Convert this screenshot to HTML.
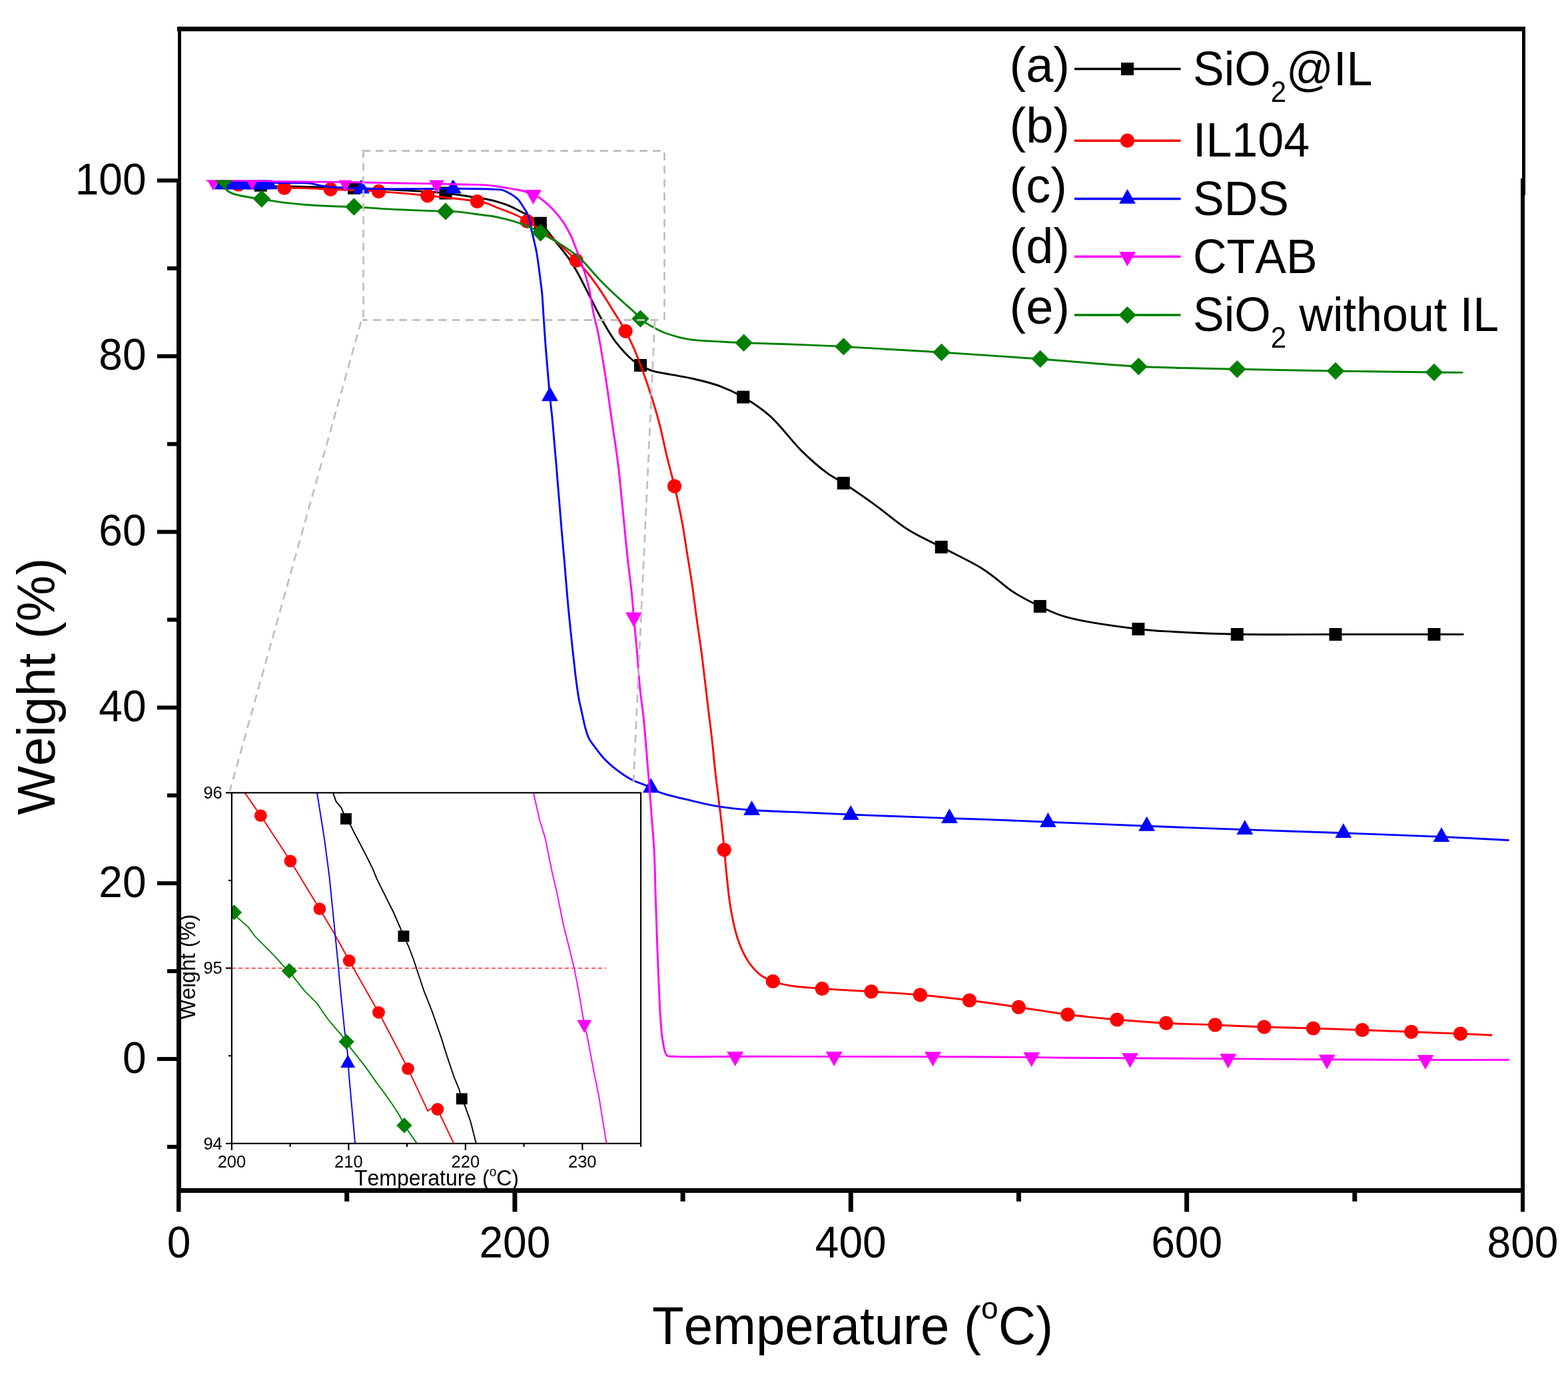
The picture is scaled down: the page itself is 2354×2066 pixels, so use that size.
<!DOCTYPE html><html><head><meta charset="utf-8"><title>TGA curves</title>
<style>html,body{margin:0;padding:0;background:#fff;}svg{display:block;}text{font-family:"Liberation Sans", Arial, sans-serif;fill:#000;font-kerning:none;font-feature-settings:"kern" 0;}</style></head><body>
<svg xmlns="http://www.w3.org/2000/svg" width="2354" height="2066" viewBox="0 0 2354 2066">
<rect width="2354" height="2066" fill="#fff"/>
<defs><clipPath id="mainclip"><rect x="272" y="270.6" width="2012" height="1513"/></clipPath><clipPath id="insclip"><rect x="347.9" y="1190.3" width="614.1" height="526.6"/></clipPath></defs>
<g clip-path="url(#mainclip)" fill="none" stroke-linejoin="round" stroke-linecap="round">
<path d="M318.0,273.5 C342.4,275.5 369.3,278.5 391.3,279.5 C409.2,280.3 423.7,279.8 440.0,280.0 C456.6,280.3 474.1,280.6 490.0,281.0 C504.5,281.4 516.0,281.7 531.6,282.3 C551.6,283.1 577.2,284.2 600.0,285.5 C623.0,286.8 649.9,288.0 669.0,290.0 C682.7,291.4 693.2,293.4 704.0,295.0 C713.4,296.4 722.5,297.4 730.4,299.0 C736.9,300.3 742.2,301.6 748.1,303.4 C754.0,305.2 759.9,307.1 765.7,309.6 C771.6,312.1 778.0,315.7 783.3,318.4 C787.6,320.6 790.8,322.1 795.0,324.5 C800.1,327.5 805.7,330.1 811.4,335.2 C819.6,342.5 829.5,357.0 837.1,366.6 C843.4,374.5 849.1,381.3 854.2,388.6 C858.8,395.2 862.2,400.9 866.4,408.2 C871.5,417.2 877.0,428.5 882.3,438.8 C887.6,449.1 893.9,461.9 898.2,470.0 C900.9,475.2 902.1,477.6 905.1,482.7 C909.8,490.7 916.7,503.5 924.1,513.1 C931.8,523.1 943.4,535.5 950.6,541.5 C954.8,545.0 957.4,546.2 961.5,548.5 C966.6,551.3 972.3,554.5 979.0,556.7 C987.2,559.4 997.7,560.5 1007.5,562.4 C1018.0,564.4 1028.5,565.8 1040.0,568.5 C1053.2,571.6 1069.2,575.4 1082.3,580.3 C1094.3,584.8 1104.4,589.6 1115.8,596.2 C1128.8,603.8 1142.4,612.5 1155.7,624.3 C1172.0,638.7 1189.0,662.9 1204.6,678.1 C1217.3,690.5 1229.9,701.5 1241.3,709.9 C1250.2,716.4 1256.7,719.1 1266.3,725.4 C1279.9,734.3 1298.6,747.3 1314.7,758.9 C1331.1,770.7 1346.8,785.0 1363.6,795.6 C1379.7,805.7 1396.0,812.4 1413.2,821.4 C1432.0,831.2 1457.9,843.5 1472.2,852.2 C1480.9,857.5 1485.1,861.0 1492.3,866.3 C1501.0,872.7 1509.8,881.4 1520.4,888.3 C1532.5,896.2 1547.6,903.9 1561.3,910.4 C1574.4,916.6 1583.9,921.7 1600.6,926.4 C1627.4,934.0 1679.3,940.9 1708.9,944.5 C1729.3,947.0 1741.0,947.3 1761.0,948.5 C1788.2,950.1 1821.8,951.6 1857.3,952.3 C1901.3,953.2 1955.7,952.5 2005.0,952.5 C2054.3,952.5 2118.4,952.5 2153.0,952.5 C2171.7,952.5 2181.9,952.5 2196.3,952.5" stroke="#000000" stroke-width="2.9" fill="none"/>
<rect x="381.8" y="268.7" width="19.0" height="19.0" fill="#000000"/>
<rect x="522.1" y="272.8" width="19.0" height="19.0" fill="#000000"/>
<rect x="659.5" y="280.5" width="19.0" height="19.0" fill="#000000"/>
<rect x="801.9" y="325.7" width="19.0" height="19.0" fill="#000000"/>
<rect x="952.0" y="539.0" width="19.0" height="19.0" fill="#000000"/>
<rect x="1106.3" y="586.7" width="19.0" height="19.0" fill="#000000"/>
<rect x="1256.8" y="715.9" width="19.0" height="19.0" fill="#000000"/>
<rect x="1403.7" y="811.9" width="19.0" height="19.0" fill="#000000"/>
<rect x="1551.8" y="900.9" width="19.0" height="19.0" fill="#000000"/>
<rect x="1699.4" y="935.0" width="19.0" height="19.0" fill="#000000"/>
<rect x="1847.8" y="943.0" width="19.0" height="19.0" fill="#000000"/>
<rect x="1995.5" y="943.0" width="19.0" height="19.0" fill="#000000"/>
<rect x="2143.5" y="943.0" width="19.0" height="19.0" fill="#000000"/>
<path d="M318.0,273.0 C331.3,274.3 342.8,275.7 357.9,277.0 C377.8,278.7 408.1,281.1 426.9,282.0 C439.9,282.6 448.7,282.2 460.0,282.6 C471.8,283.0 482.1,283.6 496.3,284.2 C516.3,285.1 544.4,285.8 568.6,287.4 C593.0,289.0 617.4,291.3 641.9,293.8 C666.7,296.3 701.5,300.2 716.5,302.5 C723.0,303.5 725.6,303.7 730.4,305.1 C736.0,306.8 742.1,310.1 748.1,312.5 C754.2,314.9 761.0,317.1 766.8,319.5 C772.0,321.7 777.1,323.9 781.5,326.2 C785.2,328.1 787.2,329.5 791.4,332.2 C799.1,337.0 812.5,344.6 823.6,353.2 C837.0,363.6 854.6,380.4 865.2,391.1 C872.4,398.3 876.7,403.1 882.3,410.0 C888.5,417.6 894.9,426.7 900.7,435.1 C906.3,443.3 910.8,450.8 916.5,460.0 C923.4,471.2 933.1,486.2 939.2,497.3 C943.9,505.9 946.5,511.4 950.6,520.7 C956.4,534.0 963.5,552.6 969.6,570.0 C976.2,589.1 983.1,610.6 988.5,630.6 C993.7,649.8 997.5,669.9 1001.8,687.5 C1005.5,702.7 1009.8,718.3 1012.6,730.1 C1014.6,738.4 1015.7,743.3 1017.4,751.3 C1019.6,761.6 1022.3,774.4 1024.6,787.0 C1027.1,801.0 1029.3,816.7 1031.7,831.6 C1034.1,846.4 1036.5,860.6 1038.8,876.1 C1041.3,893.1 1043.6,912.0 1046.0,929.6 C1048.4,946.7 1051.0,963.7 1053.2,980.0 C1055.2,995.3 1056.8,1009.7 1058.6,1024.6 C1060.4,1039.5 1062.1,1054.4 1063.9,1069.3 C1065.7,1084.2 1067.7,1099.0 1069.3,1113.9 C1071.0,1128.8 1072.2,1144.5 1073.8,1158.6 C1075.2,1171.2 1076.7,1181.7 1078.2,1194.3 C1079.9,1208.3 1082.0,1224.7 1083.6,1238.9 C1085.0,1251.8 1086.2,1263.7 1087.4,1275.8 C1088.5,1287.4 1089.2,1297.2 1090.5,1310.0 C1092.2,1326.3 1094.1,1348.2 1097.2,1365.5 C1100.0,1381.1 1103.0,1396.2 1107.5,1409.5 C1111.5,1421.3 1116.3,1432.6 1122.2,1441.8 C1127.3,1449.8 1133.2,1456.9 1139.8,1462.3 C1146.0,1467.3 1152.9,1470.6 1160.4,1473.5 C1168.5,1476.6 1176.6,1478.3 1186.8,1480.0 C1200.3,1482.3 1216.7,1483.1 1234.3,1484.4 C1256.2,1486.1 1283.5,1487.2 1308.0,1488.8 C1332.5,1490.4 1356.9,1491.6 1381.4,1493.8 C1406.0,1496.0 1430.8,1498.9 1455.4,1502.0 C1480.1,1505.1 1504.7,1508.6 1529.3,1512.2 C1553.9,1515.7 1578.4,1520.2 1603.0,1523.3 C1627.6,1526.4 1652.3,1528.8 1677.0,1531.0 C1701.6,1533.1 1726.1,1534.9 1750.7,1536.2 C1775.2,1537.5 1799.8,1537.9 1824.3,1538.9 C1848.8,1539.9 1873.4,1541.2 1897.9,1542.0 C1922.5,1542.9 1947.0,1543.2 1971.6,1544.0 C1996.1,1544.7 2020.7,1545.6 2045.2,1546.5 C2069.7,1547.4 2094.2,1548.4 2118.8,1549.3 C2143.4,1550.2 2170.8,1551.2 2192.6,1552.1 C2209.9,1552.8 2223.5,1553.6 2239.0,1554.3" stroke="#ff0000" stroke-width="2.9" fill="none"/>
<circle cx="357.9" cy="277.0" r="10.6" fill="#ff0000"/>
<circle cx="426.9" cy="282.2" r="10.6" fill="#ff0000"/>
<circle cx="496.3" cy="284.3" r="10.6" fill="#ff0000"/>
<circle cx="568.6" cy="287.4" r="10.6" fill="#ff0000"/>
<circle cx="641.9" cy="293.8" r="10.6" fill="#ff0000"/>
<circle cx="716.5" cy="302.5" r="10.6" fill="#ff0000"/>
<circle cx="791.4" cy="332.2" r="10.6" fill="#ff0000"/>
<circle cx="865.2" cy="391.1" r="10.6" fill="#ff0000"/>
<circle cx="939.2" cy="497.3" r="10.6" fill="#ff0000"/>
<circle cx="1012.6" cy="730.1" r="10.6" fill="#ff0000"/>
<circle cx="1087.2" cy="1276.0" r="10.6" fill="#ff0000"/>
<circle cx="1160.4" cy="1473.5" r="10.6" fill="#ff0000"/>
<circle cx="1234.3" cy="1484.4" r="10.6" fill="#ff0000"/>
<circle cx="1308.0" cy="1488.8" r="10.6" fill="#ff0000"/>
<circle cx="1381.4" cy="1493.8" r="10.6" fill="#ff0000"/>
<circle cx="1455.4" cy="1502.0" r="10.6" fill="#ff0000"/>
<circle cx="1529.3" cy="1512.2" r="10.6" fill="#ff0000"/>
<circle cx="1603.0" cy="1523.3" r="10.6" fill="#ff0000"/>
<circle cx="1677.0" cy="1531.0" r="10.6" fill="#ff0000"/>
<circle cx="1750.7" cy="1536.2" r="10.6" fill="#ff0000"/>
<circle cx="1824.3" cy="1538.9" r="10.6" fill="#ff0000"/>
<circle cx="1897.9" cy="1542.0" r="10.6" fill="#ff0000"/>
<circle cx="1971.6" cy="1544.0" r="10.6" fill="#ff0000"/>
<circle cx="2045.2" cy="1546.5" r="10.6" fill="#ff0000"/>
<circle cx="2118.8" cy="1549.3" r="10.6" fill="#ff0000"/>
<circle cx="2192.6" cy="1552.1" r="10.6" fill="#ff0000"/>
<path d="M318.0,272.0 C352.0,272.8 392.7,274.0 420.0,274.5 C438.3,274.9 454.6,273.9 465.8,275.2 C472.5,276.0 475.6,277.7 481.6,278.7 C489.2,280.0 498.6,281.1 508.0,281.8 C518.7,282.6 529.5,282.9 542.4,283.2 C559.1,283.6 578.6,283.6 600.0,283.6 C626.8,283.6 666.7,283.2 690.8,283.3 C706.7,283.4 721.7,283.5 730.4,283.8 C734.7,283.9 736.5,284.1 740.0,284.3 C744.1,284.5 749.4,284.3 753.4,285.2 C756.7,285.9 759.4,287.3 762.3,288.7 C765.3,290.2 768.5,292.2 771.2,294.1 C773.6,295.8 776.0,297.4 777.9,299.4 C779.7,301.3 780.9,303.5 782.4,305.7 C783.9,308.0 785.3,310.4 786.8,312.8 C788.3,315.2 789.9,317.2 791.3,320.0 C793.0,323.5 794.7,328.3 795.7,332.4 C796.7,336.2 796.8,340.1 797.5,343.6 C798.1,346.6 798.7,348.4 799.5,352.0 C800.9,358.2 803.6,368.5 805.3,377.6 C807.2,387.9 808.7,399.9 810.1,410.7 C811.5,421.1 812.9,431.2 813.8,441.2 C814.7,450.9 815.0,459.2 815.7,470.0 C816.6,483.7 817.7,500.5 818.9,516.9 C820.3,534.9 822.4,559.3 823.6,573.7 C824.4,582.5 824.7,587.0 825.5,595.0 C826.5,605.4 828.0,616.9 829.3,630.6 C831.1,649.3 832.9,672.4 835.0,697.0 C837.6,727.6 841.2,773.6 843.5,800.0 C844.9,816.5 845.8,825.4 847.1,840.2 C848.7,858.2 850.3,880.3 852.1,900.4 C853.9,920.5 856.1,941.5 858.1,960.6 C859.9,977.9 862.0,997.2 863.5,1010.0 C864.5,1018.2 865.2,1023.4 866.1,1030.0 C867.0,1036.4 867.8,1042.5 869.0,1049.0 C870.3,1056.0 872.1,1063.5 873.7,1070.7 C875.3,1077.7 876.6,1085.0 878.4,1091.6 C880.1,1097.6 881.6,1103.6 884.1,1108.7 C886.4,1113.3 889.3,1116.6 892.6,1121.0 C896.7,1126.5 901.9,1133.6 906.9,1139.0 C911.5,1143.9 916.3,1148.2 921.1,1152.2 C925.7,1156.0 930.5,1159.5 935.3,1162.7 C940.0,1165.8 944.3,1168.6 949.5,1171.2 C955.3,1174.1 963.4,1176.7 968.5,1178.8 C972.0,1180.2 974.1,1181.0 977.3,1182.5 C981.3,1184.4 984.5,1187.3 990.3,1189.6 C1000.7,1193.7 1020.9,1198.0 1035.9,1201.6 C1050.4,1205.1 1064.1,1208.5 1079.0,1210.9 C1094.9,1213.5 1109.7,1214.9 1128.6,1216.3 C1153.6,1218.2 1189.5,1219.0 1216.1,1220.2 C1238.3,1221.2 1257.2,1222.2 1277.2,1223.0 C1296.3,1223.8 1312.4,1224.4 1333.5,1225.2 C1360.4,1226.2 1398.7,1227.7 1425.4,1228.6 C1446.0,1229.3 1459.6,1229.6 1480.3,1230.4 C1507.3,1231.4 1545.0,1233.0 1573.4,1234.2 C1597.5,1235.2 1616.7,1235.9 1640.0,1236.9 C1665.8,1238.0 1690.4,1239.1 1721.6,1240.3 C1763.5,1241.9 1819.7,1243.9 1868.8,1245.6 C1918.1,1247.4 1967.5,1249.0 2016.8,1250.8 C2065.9,1252.6 2119.6,1254.4 2164.0,1256.4 C2200.7,1258.0 2230.9,1259.8 2264.4,1261.5" stroke="#0000ff" stroke-width="2.9" fill="none"/>
<polygon points="334.0,262.3 346.4,284.3 321.6,284.3" fill="#0000ff"/>
<polygon points="344.0,262.3 356.4,284.3 331.6,284.3" fill="#0000ff"/>
<polygon points="354.0,262.3 366.4,284.3 341.6,284.3" fill="#0000ff"/>
<polygon points="364.0,262.3 376.4,284.3 351.6,284.3" fill="#0000ff"/>
<polygon points="374.0,262.3 386.4,284.3 361.6,284.3" fill="#0000ff"/>
<polygon points="384.0,262.3 396.4,284.3 371.6,284.3" fill="#0000ff"/>
<polygon points="394.0,262.3 406.4,284.3 381.6,284.3" fill="#0000ff"/>
<polygon points="404.0,262.3 416.4,284.3 391.6,284.3" fill="#0000ff"/>
<polygon points="542.4,268.5 554.8,290.5 530.0,290.5" fill="#0000ff"/>
<polygon points="680.3,268.5 692.7,290.5 667.9,290.5" fill="#0000ff"/>
<polygon points="825.5,580.3 837.9,602.3 813.1,602.3" fill="#0000ff"/>
<polygon points="977.3,1168.3 989.7,1190.3 964.9,1190.3" fill="#0000ff"/>
<polygon points="1128.6,1201.9 1141.0,1223.9 1116.2,1223.9" fill="#0000ff"/>
<polygon points="1277.2,1208.9 1289.6,1230.9 1264.8,1230.9" fill="#0000ff"/>
<polygon points="1425.4,1214.1 1437.8,1236.1 1413.0,1236.1" fill="#0000ff"/>
<polygon points="1573.4,1220.1 1585.8,1242.1 1561.0,1242.1" fill="#0000ff"/>
<polygon points="1721.6,1225.7 1734.0,1247.7 1709.2,1247.7" fill="#0000ff"/>
<polygon points="1868.8,1231.0 1881.2,1253.0 1856.4,1253.0" fill="#0000ff"/>
<polygon points="2016.8,1236.1 2029.2,1258.1 2004.4,1258.1" fill="#0000ff"/>
<polygon points="2164.0,1241.9 2176.4,1263.9 2151.6,1263.9" fill="#0000ff"/>
<path d="M311.0,271.0 C333.5,271.1 358.7,271.0 378.5,271.3 C394.0,271.6 403.2,272.2 420.0,272.5 C445.8,273.0 487.0,273.1 518.2,273.5 C546.7,273.9 575.4,274.6 600.0,275.0 C620.3,275.4 638.6,275.5 655.6,275.9 C669.9,276.2 683.3,276.7 695.2,277.0 C704.9,277.2 713.7,277.0 721.6,277.4 C728.1,277.7 733.4,278.2 739.3,278.9 C745.2,279.6 751.0,280.7 756.9,281.6 C762.8,282.5 769.1,283.4 774.5,284.5 C779.2,285.4 783.4,286.2 787.7,287.5 C792.0,288.8 796.7,290.6 800.5,292.2 C803.6,293.5 805.7,294.1 808.9,296.2 C814.3,299.7 822.4,306.7 828.5,312.8 C834.7,319.1 840.7,326.3 845.6,333.6 C850.4,340.6 854.3,348.1 857.8,355.6 C861.2,362.8 863.5,369.9 866.4,377.6 C869.6,386.1 873.2,395.2 876.2,404.5 C879.4,414.3 882.4,424.5 884.8,435.1 C887.3,446.3 888.6,459.0 890.9,470.0 C892.9,479.9 895.2,486.6 897.5,497.9 C901.0,515.3 905.4,542.2 908.9,564.3 C912.4,586.4 915.2,608.5 918.4,630.6 C921.6,652.7 925.0,673.6 927.9,697.0 C931.1,723.1 933.8,754.5 936.4,780.0 C938.6,801.7 940.3,821.1 942.4,840.2 C944.3,857.7 946.8,875.0 948.4,890.4 C949.7,903.5 950.3,913.5 951.5,926.8 C952.9,943.0 955.0,963.0 956.5,980.7 C958.0,997.7 958.8,1014.2 960.5,1030.9 C962.2,1047.6 964.7,1063.6 966.5,1081.0 C968.4,1099.8 970.0,1122.2 971.5,1140.0 C972.7,1154.6 973.7,1166.1 974.8,1180.0 C976.0,1195.2 977.2,1211.9 978.4,1227.9 C979.6,1243.9 981.1,1258.3 982.0,1275.9 C983.2,1297.4 983.5,1323.8 984.3,1347.8 C985.1,1371.8 985.9,1396.8 986.7,1419.7 C987.5,1440.6 988.3,1460.7 989.1,1479.6 C989.9,1496.5 990.4,1512.8 991.5,1527.6 C992.5,1540.4 993.1,1553.2 995.1,1563.5 C996.6,1571.5 997.3,1581.2 1001.1,1584.6 C1003.8,1587.0 1006.5,1585.8 1011.9,1586.2 C1027.5,1587.4 1069.4,1586.3 1103.7,1586.3 C1147.3,1586.3 1202.7,1586.3 1252.2,1586.4 C1301.6,1586.4 1351.1,1586.4 1400.5,1586.6 C1449.9,1586.8 1512.1,1587.0 1548.7,1587.4 C1570.2,1587.6 1580.2,1588.0 1600.0,1588.2 C1627.1,1588.5 1661.0,1588.6 1696.6,1588.8 C1740.5,1589.1 1794.6,1589.3 1843.8,1589.6 C1893.1,1589.9 1942.7,1590.5 1992.1,1590.8 C2041.4,1591.1 2092.8,1591.3 2140.0,1591.4 C2183.3,1591.5 2222.9,1591.3 2264.4,1591.3" stroke="#ff00ff" stroke-width="2.9" fill="none"/>
<polygon points="319.9,285.9 332.3,263.9 307.5,263.9" fill="#ff00ff"/>
<polygon points="378.5,286.0 390.9,264.0 366.1,264.0" fill="#ff00ff"/>
<polygon points="518.4,288.0 530.8,266.0 506.0,266.0" fill="#ff00ff"/>
<polygon points="655.6,290.6 668.0,268.6 643.2,268.6" fill="#ff00ff"/>
<polygon points="800.5,306.9 812.9,284.9 788.1,284.9" fill="#ff00ff"/>
<polygon points="951.5,941.5 963.9,919.5 939.1,919.5" fill="#ff00ff"/>
<polygon points="1103.7,1601.0 1116.1,1579.0 1091.3,1579.0" fill="#ff00ff"/>
<polygon points="1252.2,1601.1 1264.6,1579.1 1239.8,1579.1" fill="#ff00ff"/>
<polygon points="1400.5,1601.3 1412.9,1579.3 1388.1,1579.3" fill="#ff00ff"/>
<polygon points="1548.7,1602.0 1561.1,1580.0 1536.3,1580.0" fill="#ff00ff"/>
<polygon points="1696.6,1603.3 1709.0,1581.3 1684.2,1581.3" fill="#ff00ff"/>
<polygon points="1843.8,1604.3 1856.2,1582.3 1831.4,1582.3" fill="#ff00ff"/>
<polygon points="1992.1,1605.5 2004.5,1583.5 1979.7,1583.5" fill="#ff00ff"/>
<polygon points="2140.0,1606.1 2152.4,1584.1 2127.6,1584.1" fill="#ff00ff"/>
<path d="M322.0,268.0 C326.7,268.9 333.0,267.8 336.0,270.6 C339.1,273.4 337.3,281.5 340.0,285.0 C342.5,288.2 347.0,289.6 351.0,291.2 C355.3,292.9 360.3,293.5 365.0,294.5 C369.6,295.5 374.2,296.3 378.8,297.0 C383.4,297.7 388.2,298.1 392.8,298.8 C397.3,299.5 401.7,300.3 406.2,301.1 C410.8,301.9 415.0,302.7 420.0,303.4 C426.0,304.2 433.0,304.9 440.0,305.6 C447.6,306.4 454.8,307.1 464.0,307.8 C476.5,308.7 495.6,309.6 508.0,310.0 C517.0,310.3 522.6,310.1 531.4,310.5 C542.6,311.0 557.7,312.4 569.7,313.1 C580.4,313.8 587.8,314.2 600.0,314.8 C618.3,315.7 653.6,316.9 669.0,317.4 C676.7,317.7 680.0,317.4 686.4,317.9 C694.3,318.5 703.9,320.2 712.8,321.3 C721.8,322.5 731.0,323.2 740.0,324.8 C749.0,326.4 759.4,329.1 766.8,331.1 C772.0,332.5 776.1,333.7 780.1,335.1 C783.4,336.3 786.1,337.5 789.1,338.7 C792.1,339.9 794.8,340.7 798.0,342.2 C802.1,344.1 806.1,346.6 811.4,349.5 C819.1,353.8 830.1,359.4 839.5,365.4 C849.7,371.9 860.3,378.8 870.1,387.4 C880.8,396.8 890.4,409.9 900.7,420.4 C910.7,430.6 921.5,440.8 931.2,449.8 C939.7,457.8 950.5,466.7 955.7,472.0 C958.4,474.7 959.2,476.5 961.4,478.6 C963.8,480.9 966.4,482.6 969.8,484.9 C974.7,488.1 983.0,492.7 988.5,495.5 C992.7,497.6 995.1,498.8 1000.0,500.5 C1008.2,503.3 1021.1,507.3 1033.4,509.4 C1048.0,511.9 1067.4,512.1 1082.3,513.0 C1094.7,513.8 1103.4,514.2 1116.6,514.7 C1134.6,515.4 1157.4,515.9 1180.2,516.7 C1206.8,517.7 1240.3,519.1 1266.5,520.4 C1288.4,521.5 1305.0,522.7 1326.9,524.0 C1353.2,525.5 1389.1,527.5 1413.5,529.0 C1431.4,530.1 1441.5,530.9 1460.0,532.1 C1487.4,533.9 1524.7,536.3 1561.7,539.0 C1606.3,542.2 1660.0,547.7 1709.3,550.2 C1758.6,552.7 1808.0,553.1 1857.3,554.2 C1906.6,555.3 1955.7,556.2 2005.0,557.0 C2054.3,557.8 2118.7,558.6 2153.0,559.0 C2171.3,559.2 2181.1,559.3 2195.1,559.4" stroke="#008000" stroke-width="2.9" fill="none"/>
<polygon points="336.0,257.4 349.2,270.6 336.0,283.8 322.8,270.6" fill="#008000"/>
<polygon points="392.8,285.3 406.0,298.5 392.8,311.7 379.6,298.5" fill="#008000"/>
<polygon points="531.4,297.3 544.6,310.5 531.4,323.7 518.2,310.5" fill="#008000"/>
<polygon points="669.0,304.2 682.2,317.4 669.0,330.6 655.8,317.4" fill="#008000"/>
<polygon points="811.4,336.3 824.6,349.5 811.4,362.7 798.2,349.5" fill="#008000"/>
<polygon points="961.4,465.4 974.6,478.6 961.4,491.8 948.2,478.6" fill="#008000"/>
<polygon points="1116.6,501.5 1129.8,514.7 1116.6,527.9 1103.4,514.7" fill="#008000"/>
<polygon points="1266.5,507.2 1279.7,520.4 1266.5,533.6 1253.3,520.4" fill="#008000"/>
<polygon points="1413.5,515.8 1426.7,529.0 1413.5,542.2 1400.3,529.0" fill="#008000"/>
<polygon points="1561.7,525.8 1574.9,539.0 1561.7,552.2 1548.5,539.0" fill="#008000"/>
<polygon points="1709.3,537.0 1722.5,550.2 1709.3,563.4 1696.1,550.2" fill="#008000"/>
<polygon points="1857.3,541.0 1870.5,554.2 1857.3,567.4 1844.1,554.2" fill="#008000"/>
<polygon points="2005.0,543.8 2018.2,557.0 2005.0,570.2 1991.8,557.0" fill="#008000"/>
<polygon points="2153.0,545.8 2166.2,559.0 2153.0,572.2 2139.8,559.0" fill="#008000"/>
</g>
<path d="M544,226.5 H992" stroke="#c0c0c0" stroke-width="2.8" fill="none" stroke-dasharray="11.8 8.02"/>
<path d="M545.5,225 V481" stroke="#c0c0c0" stroke-width="2.8" fill="none" stroke-dasharray="11.8 8.2"/>
<path d="M997.5,229 V481" stroke="#c0c0c0" stroke-width="2.8" fill="none" stroke-dasharray="11.8 8.2"/>
<path d="M544,480.5 H988" stroke="#c0c0c0" stroke-width="2.8" fill="none" stroke-dasharray="11.8 8.02" stroke-dashoffset="4"/>
<path d="M542,483 L345,1187.5" stroke="#c0c0c0" stroke-width="2.8" fill="none" stroke-dasharray="12.1 7.95"/>
<path d="M983,482 L950.9,1176" stroke="#c0c0c0" stroke-width="2.8" fill="none" stroke-dasharray="12.1 7.95"/>
<g font-size="64">
<text transform="translate(219.50,1610.50) scale(1,1.040)" font-size="64" text-anchor="end">0</text>
<text transform="translate(219.50,1346.70) scale(1,1.040)" font-size="64" text-anchor="end">20</text>
<text transform="translate(219.50,1082.90) scale(1,1.040)" font-size="64" text-anchor="end">40</text>
<text transform="translate(219.50,819.10) scale(1,1.040)" font-size="64" text-anchor="end">60</text>
<text transform="translate(219.50,555.30) scale(1,1.040)" font-size="64" text-anchor="end">80</text>
<text transform="translate(219.50,291.50) scale(1,1.040)" font-size="64" text-anchor="end">100</text>
<text transform="translate(268.50,1888.00) scale(1,1.040)" font-size="64" text-anchor="middle">0</text>
<text transform="translate(772.88,1888.00) scale(1,1.040)" font-size="64" text-anchor="middle">200</text>
<text transform="translate(1277.25,1888.00) scale(1,1.040)" font-size="64" text-anchor="middle">400</text>
<text transform="translate(1781.62,1888.00) scale(1,1.040)" font-size="64" text-anchor="middle">600</text>
<text transform="translate(2286.00,1888.00) scale(1,1.040)" font-size="64" text-anchor="middle">800</text>
</g>
<text transform="translate(979.00,2017.50) scale(1,1.020)" font-size="78">Temperature (<tspan font-size="46" dy="-37">o</tspan><tspan dy="37">C)</tspan></text>
<text transform="translate(82.00,1223.50) rotate(-90) scale(1,1.020)" font-size="78">Weight (%)</text>
<text transform="translate(1515.50,123.00)" font-size="74">(a)</text>
<line x1="1613" y1="103.5" x2="1772.5" y2="103.5" stroke="#000000" stroke-width="3.5"/>
<rect x="1683.0" y="94.0" width="19.0" height="19.0" fill="#000000"/>
<text transform="translate(1791.00,127.80) scale(1,1.040)" font-size="70">SiO<tspan font-size="42" dy="24">2</tspan><tspan dy="-24">@IL</tspan></text>
<text transform="translate(1515.50,214.30)" font-size="74">(b)</text>
<line x1="1613" y1="211.2" x2="1772.5" y2="211.2" stroke="#ff0000" stroke-width="3.5"/>
<circle cx="1692.5" cy="211.2" r="10.6" fill="#ff0000"/>
<text transform="translate(1791.00,235.40) scale(1,1.040)" font-size="70">IL104</text>
<text transform="translate(1515.50,304.00)" font-size="74">(c)</text>
<line x1="1613" y1="298.5" x2="1772.5" y2="298.5" stroke="#0000ff" stroke-width="3.5"/>
<polygon points="1692.5,283.8 1704.9,305.8 1680.1,305.8" fill="#0000ff"/>
<text transform="translate(1791.00,323.00) scale(1,1.040)" font-size="70">SDS</text>
<text transform="translate(1515.50,394.60)" font-size="74">(d)</text>
<line x1="1613" y1="385.3" x2="1772.5" y2="385.3" stroke="#ff00ff" stroke-width="3.5"/>
<polygon points="1692.5,400.0 1704.9,378.0 1680.1,378.0" fill="#ff00ff"/>
<text transform="translate(1791.00,410.20) scale(1,1.040)" font-size="70">CTAB</text>
<text transform="translate(1515.50,486.00)" font-size="74">(e)</text>
<line x1="1613" y1="473.1" x2="1772.5" y2="473.1" stroke="#008000" stroke-width="3.5"/>
<polygon points="1692.5,459.9 1705.7,473.1 1692.5,486.3 1679.3,473.1" fill="#008000"/>
<text transform="translate(1791.00,497.30) scale(1,1.040)" font-size="70">SiO<tspan font-size="42" dy="24">2</tspan><tspan dy="-24"> without IL</tspan></text>
<rect x="347.9" y="1190.3" width="614.1" height="526.6" fill="#fff"/>
<line x1="347.9" y1="1453.6" x2="909.7" y2="1453.6" stroke="#ff0000" stroke-width="1.3" stroke-dasharray="6 4"/>
<g clip-path="url(#insclip)" fill="none" stroke-linejoin="round">
<path d="M499.9,1190.3 L504.5,1203.4 L512.2,1212.6 L519.5,1229.5 L526.0,1238.6 L532.1,1250.9 L547.4,1280.0 L559.7,1304.6 L565.8,1319.9 L572.0,1332.1 L579.6,1347.5 L590.4,1369.0 L601.1,1393.5 L606.0,1405.7 L613.4,1421.0 L620.6,1440.0 L636.1,1486.8 L648.5,1518.0 L662.6,1558.6 L670.4,1583.6 L681.3,1616.3 L689.1,1635.1 L693.3,1649.9 L698.5,1661.6 L706.3,1683.4 L714.9,1716.9" stroke="#000000" stroke-width="1.9" fill="none"/>
<rect x="511.0" y="1221.0" width="16.9" height="16.9" fill="#000000"/>
<rect x="597.5" y="1397.2" width="16.9" height="16.9" fill="#000000"/>
<rect x="684.8" y="1641.4" width="16.9" height="16.9" fill="#000000"/>
<path d="M367.4,1190.3 L391.3,1224.6 L413.6,1258.6 L436.0,1292.8 L479.9,1364.7 L501.9,1401.7 L524.2,1442.3 L562.7,1510.2 L568.5,1520.1 L590.0,1561.0 L612.5,1604.6 L642.3,1668.2 L647.0,1664.5 L656.8,1665.5 L681.3,1716.9" stroke="#ff0000" stroke-width="1.9" fill="none"/>
<circle cx="391.3" cy="1224.6" r="9.4" fill="#ff0000"/>
<circle cx="436.0" cy="1292.8" r="9.4" fill="#ff0000"/>
<circle cx="479.9" cy="1364.7" r="9.4" fill="#ff0000"/>
<circle cx="524.2" cy="1442.3" r="9.4" fill="#ff0000"/>
<circle cx="568.5" cy="1520.1" r="9.4" fill="#ff0000"/>
<circle cx="612.5" cy="1604.6" r="9.4" fill="#ff0000"/>
<circle cx="656.8" cy="1665.5" r="9.4" fill="#ff0000"/>
<path d="M476.0,1190.3 L487.0,1259.7 L494.4,1315.7 L501.9,1390.5 L507.5,1446.5 L511.2,1486.8 L517.5,1549.2 L522.1,1583.6 L523.7,1611.7 L533.1,1716.9" stroke="#0000ff" stroke-width="1.9" fill="none"/>
<polygon points="522.2,1583.5 533.2,1603.1 511.2,1603.1" fill="#0000ff"/>
<path d="M800.9,1190.3 L809.8,1229.7 L818.8,1259.6 L827.7,1304.3 L836.7,1343.1 L845.6,1387.8 L854.6,1423.6 L862.0,1453.4 L869.5,1492.2 L875.4,1528.0 L877.0,1538.0 L881.4,1554.8 L890.3,1602.5 L899.3,1647.3 L910.5,1716.9" stroke="#ff00ff" stroke-width="1.9" fill="none"/>
<polygon points="877.2,1551.1 888.2,1531.5 866.2,1531.5" fill="#ff00ff"/>
<path d="M347.9,1367.0 L351.5,1369.9 L356.2,1377.4 L373.0,1392.3 L382.4,1405.4 L397.3,1420.3 L412.2,1435.3 L425.3,1450.2 L434.3,1457.7 L442.1,1468.9 L457.1,1487.6 L475.7,1506.3 L485.1,1520.0 L492.5,1530.5 L500.3,1539.9 L511.2,1552.4 L520.1,1564.1 L526.8,1574.2 L539.3,1589.8 L550.2,1603.9 L564.3,1624.1 L578.3,1642.9 L589.2,1658.5 L600.2,1675.6 L606.9,1689.7 L615.8,1702.2 L625.9,1716.9" stroke="#008000" stroke-width="1.9" fill="none"/>
<polygon points="351.5,1358.2 363.2,1369.9 351.5,1381.6 339.8,1369.9" fill="#008000"/>
<polygon points="434.3,1446.0 446.0,1457.7 434.3,1469.4 422.6,1457.7" fill="#008000"/>
<polygon points="520.1,1552.4 531.8,1564.1 520.1,1575.8 508.4,1564.1" fill="#008000"/>
<polygon points="606.9,1678.0 618.6,1689.7 606.9,1701.4 595.2,1689.7" fill="#008000"/>
</g>
<g stroke="#000" fill="none" stroke-width="2.2">
<rect x="347.9" y="1190.3" width="614.1" height="526.6"/>
<line x1="338.9" y1="1716.9" x2="347.9" y2="1716.9"/>
<line x1="338.9" y1="1453.6" x2="347.9" y2="1453.6"/>
<line x1="338.9" y1="1190.3" x2="347.9" y2="1190.3"/>
<line x1="342.9" y1="1585.2" x2="347.9" y2="1585.2"/>
<line x1="342.9" y1="1322.0" x2="347.9" y2="1322.0"/>
<line x1="347.9" y1="1716.9" x2="347.9" y2="1726.9"/>
<line x1="523.4" y1="1716.9" x2="523.4" y2="1726.9"/>
<line x1="698.8" y1="1716.9" x2="698.8" y2="1726.9"/>
<line x1="874.3" y1="1716.9" x2="874.3" y2="1726.9"/>
<line x1="435.6" y1="1716.9" x2="435.6" y2="1721.9"/>
<line x1="611.1" y1="1716.9" x2="611.1" y2="1721.9"/>
<line x1="786.5" y1="1716.9" x2="786.5" y2="1721.9"/>
<line x1="962.0" y1="1716.9" x2="962.0" y2="1721.9"/>
</g>
<g font-size="25.5">
<text transform="translate(333.80,1725.70) scale(1,1.040)" font-size="25.5" text-anchor="end">94</text>
<text transform="translate(333.80,1462.40) scale(1,1.040)" font-size="25.5" text-anchor="end">95</text>
<text transform="translate(333.80,1199.10) scale(1,1.040)" font-size="25.5" text-anchor="end">96</text>
<text transform="translate(347.90,1752.80) scale(1,1.040)" font-size="25.5" text-anchor="middle">200</text>
<text transform="translate(523.36,1752.80) scale(1,1.040)" font-size="25.5" text-anchor="middle">210</text>
<text transform="translate(698.81,1752.80) scale(1,1.040)" font-size="25.5" text-anchor="middle">220</text>
<text transform="translate(874.27,1752.80) scale(1,1.040)" font-size="25.5" text-anchor="middle">230</text>
</g>
<text transform="translate(532.00,1780.00) scale(1,1.020)" font-size="32">Temperature (<tspan font-size="19" dy="-14">o</tspan><tspan dy="14">C)</tspan></text>
<text transform="translate(293.00,1531.00) rotate(-90) scale(1,1.020)" font-size="32">Weight (%)</text>
<g fill="#000">
<rect x="266.0" y="40.0" width="2024.0" height="7.0"/>
<rect x="265.0" y="1784.0" width="2024.0" height="7.0"/>
<rect x="267.0" y="40.0" width="5.0" height="232.0"/>
<rect x="265.0" y="268.0" width="7.0" height="1523.0"/>
<rect x="2285.0" y="40.0" width="5.0" height="230.0"/>
<rect x="2283.0" y="268.0" width="7.0" height="25.0"/>
<rect x="2283.0" y="293.0" width="6.0" height="1498.0"/>
<rect x="236.0" y="1587.0" width="30.0" height="6.0"/>
<rect x="236.0" y="1323.2" width="30.0" height="6.0"/>
<rect x="236.0" y="1059.4" width="30.0" height="6.0"/>
<rect x="236.0" y="795.6" width="30.0" height="6.0"/>
<rect x="236.0" y="531.8" width="30.0" height="6.0"/>
<rect x="236.0" y="268.0" width="30.0" height="6.0"/>
<rect x="251.0" y="1718.9" width="15.0" height="6.0"/>
<rect x="251.0" y="1455.1" width="15.0" height="6.0"/>
<rect x="251.0" y="1191.3" width="15.0" height="6.0"/>
<rect x="251.0" y="927.5" width="15.0" height="6.0"/>
<rect x="251.0" y="663.7" width="15.0" height="6.0"/>
<rect x="251.0" y="399.9" width="15.0" height="6.0"/>
<rect x="265.0" y="1790.0" width="6.5" height="29.5"/>
<rect x="769.4" y="1790.0" width="7.0" height="29.5"/>
<rect x="1273.8" y="1790.0" width="7.0" height="29.5"/>
<rect x="1778.1" y="1790.0" width="7.0" height="29.5"/>
<rect x="2283.0" y="1790.0" width="6.0" height="29.5"/>
<rect x="517.2" y="1790.0" width="7.0" height="14.0"/>
<rect x="1021.6" y="1790.0" width="7.0" height="14.0"/>
<rect x="1525.9" y="1790.0" width="7.0" height="14.0"/>
<rect x="2030.3" y="1790.0" width="7.0" height="14.0"/>
</g>
</svg></body></html>
